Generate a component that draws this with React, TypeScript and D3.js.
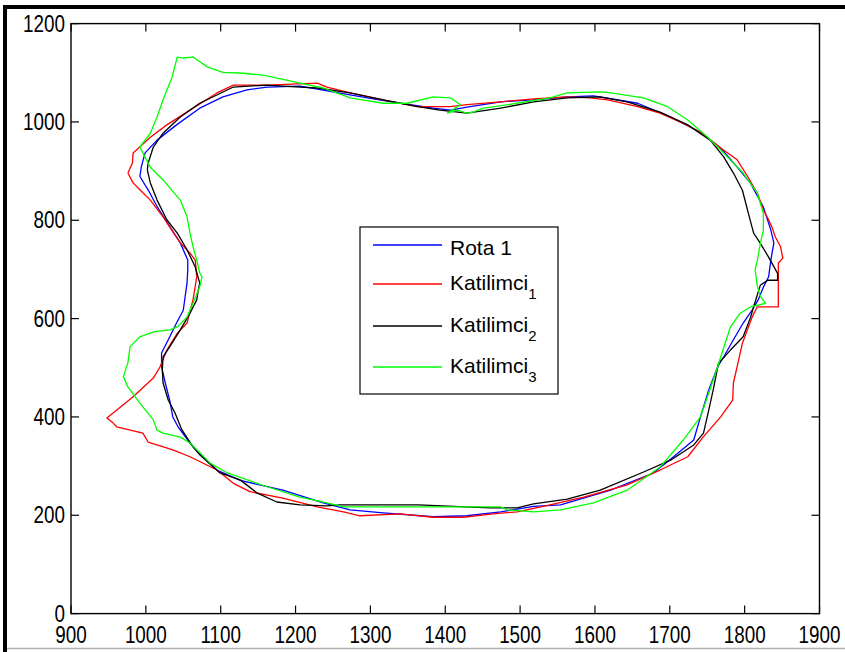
import React from "react";
import * as d3 from "d3";

const xTicks = [900, 1000, 1100, 1200, 1300, 1400, 1500, 1600, 1700, 1800, 1900];
const yTicks = [0, 200, 400, 600, 800, 1000, 1200];

const seriesNames = ["Rota 1", "Katilimci", "Katilimci", "Katilimci"];
const seriesSubs = ["", "1", "2", "3"];
const seriesColors = ["#0000ff", "#ff0000", "#000000", "#00ff00"];

const rota1: [number, number][] = [
  [992, 889], [994, 909], [999, 937], [1015, 963], [1041, 994], [1072, 1028], [1103, 1051], [1135, 1065],
  [1162, 1071], [1206, 1073], [1250, 1061], [1296, 1049], [1340, 1038], [1384, 1028], [1407, 1024],
  [1429, 1030], [1474, 1041], [1518, 1045], [1563, 1051], [1598, 1053], [1657, 1038], [1701, 1010],
  [1741, 979], [1768, 947], [1790, 908], [1808, 875], [1825, 827], [1835, 780], [1839, 754], [1835, 719],
  [1832, 685], [1825, 664], [1818, 638], [1810, 617], [1798, 591], [1785, 557], [1772, 522], [1764, 502],
  [1752, 455], [1741, 400], [1732, 353], [1705, 319], [1678, 286], [1621, 251], [1554, 221], [1518, 218],
  [1474, 207], [1429, 199], [1384, 197], [1317, 205], [1273, 211], [1237, 225], [1183, 251], [1126, 271],
  [1095, 292], [1072, 325], [1059, 347], [1043, 380], [1036, 400], [1032, 433], [1026, 469], [1021, 502],
  [1021, 530], [1032, 563], [1041, 591], [1050, 617], [1055, 672], [1056, 699], [1056, 719], [1046, 754],
  [1032, 787], [1015, 828], [1003, 862], [992, 889],
];

const katilimci1: [number, number][] = [
  [976, 896], [982, 916], [983, 937], [1006, 969], [1028, 994], [1059, 1024], [1095, 1059], [1117, 1075],
  [1162, 1075], [1229, 1079], [1242, 1071], [1273, 1059], [1317, 1045], [1363, 1031], [1407, 1031],
  [1429, 1035], [1474, 1041], [1518, 1047], [1563, 1051], [1594, 1049], [1617, 1045], [1657, 1031],
  [1687, 1018], [1718, 997], [1741, 979], [1768, 947], [1790, 923], [1804, 889], [1817, 855], [1825, 821],
  [1831, 804], [1837, 784], [1841, 766], [1848, 746], [1851, 723], [1845, 713], [1845, 624], [1817, 624],
  [1810, 603], [1797, 550], [1792, 516], [1785, 469], [1784, 434], [1768, 400], [1745, 360], [1724, 319],
  [1687, 292], [1643, 262], [1585, 237], [1540, 221], [1496, 207], [1464, 203], [1424, 196], [1384, 196],
  [1340, 203], [1286, 199], [1264, 207], [1229, 217], [1183, 235], [1139, 248], [1117, 265], [1095, 292],
  [1059, 319], [1036, 333], [1003, 349], [996, 367], [961, 380], [956, 388], [948, 398], [983, 441],
  [1010, 479], [1019, 502], [1028, 536], [1042, 570], [1055, 591], [1063, 638], [1068, 685], [1066, 719],
  [1059, 733], [1046, 754], [1032, 786], [1023, 807], [1006, 841], [992, 862], [983, 876], [976, 896],
];

const katilimci2: [number, number][] = [
  [1002, 902], [1003, 916], [1010, 949], [1023, 977], [1046, 1010], [1072, 1038], [1117, 1071],
  [1162, 1075], [1206, 1071], [1229, 1069], [1273, 1059], [1317, 1045], [1363, 1031], [1393, 1024],
  [1429, 1018], [1474, 1028], [1518, 1041], [1563, 1049], [1607, 1051], [1643, 1041], [1687, 1020],
  [1724, 994], [1754, 963], [1772, 929], [1785, 896], [1797, 861], [1805, 814], [1812, 774], [1821, 753],
  [1832, 725], [1844, 692], [1844, 678], [1831, 678], [1821, 668], [1812, 624], [1808, 603], [1798, 563],
  [1781, 536], [1765, 509], [1758, 455], [1750, 400], [1745, 367], [1732, 343], [1701, 312], [1665, 288],
  [1607, 251], [1563, 233], [1518, 223], [1496, 215], [1460, 215], [1364, 221], [1304, 221], [1260, 221],
  [1242, 219], [1206, 221], [1175, 227], [1149, 245], [1126, 272], [1099, 286], [1072, 323], [1063, 339],
  [1048, 374], [1039, 408], [1030, 434], [1023, 469], [1022, 496], [1023, 522], [1032, 543], [1046, 577],
  [1059, 611], [1068, 638], [1070, 658], [1072, 672], [1066, 705], [1055, 740], [1042, 774], [1028, 801],
  [1015, 841], [1006, 876], [1002, 902],
];

const katilimci3: [number, number][] = [
  [992, 949], [1006, 977], [1015, 1010], [1023, 1045], [1035, 1091], [1042, 1132], [1050, 1130],
  [1063, 1132], [1082, 1112], [1103, 1101], [1130, 1099], [1157, 1095], [1206, 1079], [1237, 1069],
  [1273, 1049], [1317, 1038], [1349, 1038], [1384, 1051], [1407, 1049], [1420, 1035], [1403, 1018],
  [1416, 1024], [1429, 1018], [1437, 1020], [1451, 1028], [1496, 1038], [1540, 1049], [1563, 1059],
  [1607, 1061], [1621, 1059], [1665, 1049], [1697, 1031], [1724, 1004], [1750, 970], [1777, 929],
  [1798, 896], [1817, 855], [1825, 814], [1825, 780], [1821, 753], [1817, 719], [1814, 699], [1817, 665],
  [1821, 645], [1828, 631], [1808, 624], [1794, 611], [1781, 583], [1768, 522], [1764, 502], [1741, 400],
  [1718, 353], [1687, 298], [1643, 251], [1598, 225], [1554, 211], [1518, 207], [1483, 211], [1474, 217],
  [1264, 217], [1242, 225], [1206, 237], [1162, 258], [1109, 286], [1086, 306], [1059, 347], [1046, 359],
  [1023, 367], [1015, 373], [1010, 394], [992, 428], [976, 461], [970, 482], [976, 510], [979, 543],
  [992, 563], [1010, 573], [1032, 577], [1042, 583], [1055, 603], [1063, 631], [1072, 665], [1075, 685],
  [1072, 693], [1068, 719], [1063, 746], [1059, 774], [1055, 807], [1046, 841], [1023, 882], [1006, 908],
  [996, 937], [992, 949],
];

const allSeries = [rota1, katilimci1, katilimci2, katilimci3];

const W = 845;
const H = 652;
const L = 71;
const R = 819.5;
const T = 23.6;
const B = 613.6;
const FONT = "Arial, 'Liberation Sans', Helvetica, sans-serif";

export default function App() {
  const x = d3.scaleLinear().domain([900, 1900]).range([L, R]);
  const y = d3.scaleLinear().domain([0, 1200]).range([B, T]);
  const line = d3
    .line<[number, number]>()
    .x((d) => x(d[0]))
    .y((d) => y(d[1]));
  const tickLen = 8;
  const legendRows = [245, 284, 326, 367];
  const textOffsets = [10, 6, 6, 6];

  return (
    <svg
      width={W}
      height={H}
      style={{ position: "absolute", left: 0, top: 0, display: "block", background: "#fff" }}
      fontFamily={FONT}
    >
      <rect x={0} y={0} width={W} height={H} fill="#fff" />
      {/* outer frame */}
      <rect x={3} y={5} width={W - 3} height={4} fill="#000" />
      <rect x={3} y={5} width={4} height={H - 5} fill="#000" />
      <line x1={7} x2={W} y1={648.5} y2={648.5} stroke="#b0b0b0" strokeWidth={1.5} />

      {/* series */}
      {allSeries.map((s, i) => (
        <path key={i} d={line(s) || ""} fill="none" stroke={seriesColors[i]} strokeWidth={1.3} strokeLinejoin="round" />
      ))}

      {/* axes box */}
      <rect x={L} y={T} width={R - L} height={B - T} fill="none" stroke="#000" strokeWidth={1.4} />
      {xTicks.map((t) => (
        <g key={"xt" + t}>
          <line x1={x(t)} x2={x(t)} y1={B} y2={B - tickLen} stroke="#000" strokeWidth={1.2} />
          <line x1={x(t)} x2={x(t)} y1={T} y2={T + tickLen} stroke="#000" strokeWidth={1.2} />
          <text
            transform={`translate(${x(t)},${B + 29}) scale(0.82,1)`}
            textAnchor="middle"
            fontSize={23}
            fill="#000"
          >
            {t}
          </text>
        </g>
      ))}
      {yTicks.map((t) => (
        <g key={"yt" + t}>
          <line x1={L} x2={L + tickLen} y1={y(t)} y2={y(t)} stroke="#000" strokeWidth={1.2} />
          <line x1={R} x2={R - tickLen} y1={y(t)} y2={y(t)} stroke="#000" strokeWidth={1.2} />
          <text
            transform={`translate(${L - 6},${y(t) + 8}) scale(0.82,1)`}
            textAnchor="end"
            fontSize={23}
            fill="#000"
          >
            {t}
          </text>
        </g>
      ))}

      {/* legend */}
      <rect x={360} y={227} width={198} height={167} fill="#fff" stroke="#000" strokeWidth={1.2} />
      {seriesNames.map((n, i) => (
        <g key={"lg" + i}>
          <line x1={373} x2={442} y1={legendRows[i]} y2={legendRows[i]} stroke={seriesColors[i]} strokeWidth={1.3} />
          <text x={450} y={legendRows[i] + textOffsets[i]} fontSize={21} fill="#000">
            {n}
            {seriesSubs[i] ? (
              <tspan fontSize={15} dy={9}>
                {seriesSubs[i]}
              </tspan>
            ) : null}
          </text>
        </g>
      ))}
    </svg>
  );
}
